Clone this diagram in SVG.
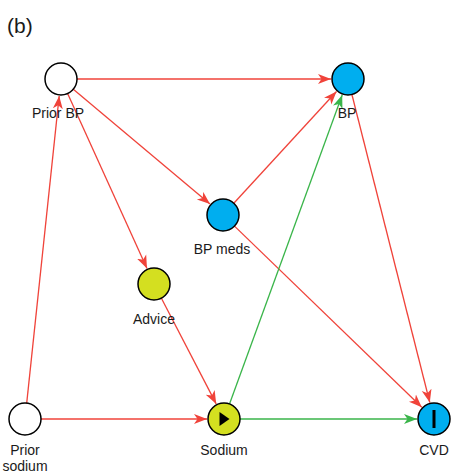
<svg xmlns="http://www.w3.org/2000/svg" width="451" height="476" viewBox="0 0 451 476">
<style>
.n{stroke:#000;stroke-width:1.5}
.w{fill:#fff}
.b{fill:#00aeef}
.y{fill:#d4df20}
.t{font-family:"Liberation Sans",Arial,sans-serif;font-size:14px;fill:#1a1a1a;text-anchor:middle}
.r{stroke:#f0433a;stroke-width:1.3;fill:none;marker-end:url(#ar)}
.g{stroke:#3ab54a;stroke-width:1.3;fill:none;marker-end:url(#ag)}
</style>
<defs>
<marker id="ar" markerUnits="userSpaceOnUse" markerWidth="14" markerHeight="12" refX="13" refY="5" orient="auto" viewBox="0 0 14 10">
<path d="M0,0 L13,5 L0,10 L3.5,5 z" fill="#f0433a"/>
</marker>
<marker id="ag" markerUnits="userSpaceOnUse" markerWidth="14" markerHeight="12" refX="13" refY="5" orient="auto" viewBox="0 0 14 10">
<path d="M0,0 L13,5 L0,10 L3.5,5 z" fill="#3ab54a"/>
</marker>
</defs>
<rect width="451" height="476" fill="#fff"/>
<text x="7" y="33" font-family="Liberation Sans,Arial,sans-serif" font-size="21" fill="#1a1a1a">(b)</text>
<g id="connectors">
<line class="r" x1="77" y1="79" x2="331" y2="79"/>
<line class="r" x1="73.3" y1="89.3" x2="210" y2="204.1"/>
<line class="r" x1="67.6" y1="93.6" x2="147" y2="268.5"/>
<line class="r" x1="26.7" y1="403.1" x2="59.2" y2="95.9"/>
<line class="r" x1="41" y1="419" x2="207" y2="419"/>
<line class="r" x1="161.4" y1="298.2" x2="216.2" y2="403.9"/>
<line class="r" x1="233.8" y1="203.2" x2="336.5" y2="91.5"/>
<line class="r" x1="234.5" y1="226.1" x2="421.8" y2="407.2"/>
<line class="r" x1="351.9" y1="94.5" x2="429.8" y2="402.5"/>
<line class="g" x1="229.5" y1="404" x2="342.2" y2="95"/>
<line class="g" x1="240" y1="419" x2="417" y2="419"/>
</g>
<g id="priorBP"><circle class="n w" cx="61" cy="79" r="16"/><text class="t" x="58" y="118">Prior BP</text></g>
<g id="BP"><circle class="n b" cx="348" cy="79" r="16"/><text class="t" x="347" y="118">BP</text></g>
<g id="BPmeds"><circle class="n b" cx="223" cy="215" r="16"/><text class="t" x="222" y="254">BP meds</text></g>
<g id="advice"><circle class="n y" cx="154" cy="284" r="16"/><text class="t" x="154" y="324">Advice</text></g>
<g id="priorSodium"><circle class="n w" cx="25" cy="419" r="16"/><text class="t" x="25" y="455">Prior</text><text class="t" x="25" y="471">sodium</text></g>
<g id="sodium"><circle class="n y" cx="224" cy="419" r="16"/><path d="M219.5,412 L229.5,419 L219.5,426 z" fill="#000"/><text class="t" x="224" y="455">Sodium</text></g>
<g id="CVD"><circle class="n b" cx="434" cy="419" r="16"/><rect x="432.5" y="410" width="3" height="18" fill="#000"/><text class="t" x="434" y="455">CVD</text></g>
</svg>
